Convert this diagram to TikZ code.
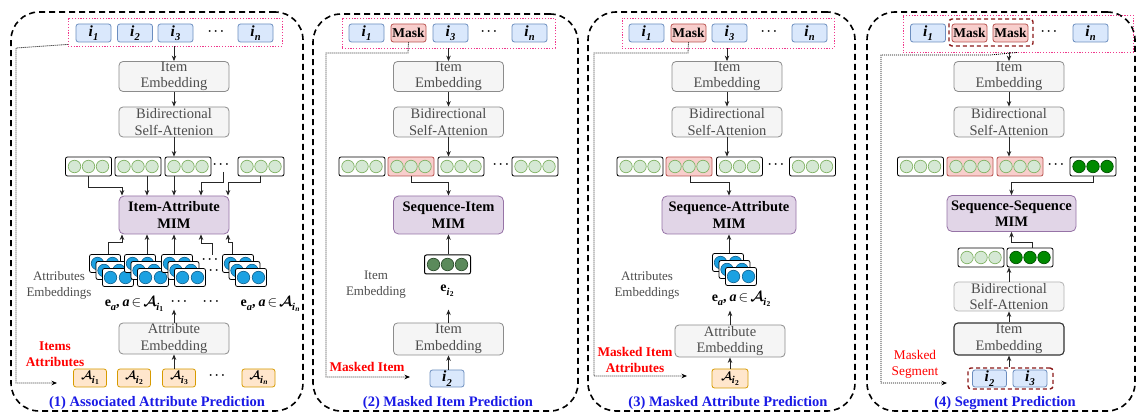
\documentclass[tikz,border=0pt]{standalone}
\usepackage{fontspec}
\setmainfont{Liberation Serif}
\usepackage{amsmath,amssymb}
\usetikzlibrary{arrows.meta,calc}
\definecolor{itemfill}{HTML}{DAE8FC}
\definecolor{itemdraw}{HTML}{6C8EBF}
\definecolor{maskfill}{HTML}{F8CECC}
\definecolor{maskdraw}{HTML}{B85450}
\definecolor{grayfill}{HTML}{F5F5F5}
\definecolor{graydraw}{HTML}{8C8C8C}
\definecolor{mimfill}{HTML}{E1D5E7}
\definecolor{mimdraw}{HTML}{9673A6}
\definecolor{attfill}{HTML}{FFE6CC}
\definecolor{attdraw}{HTML}{D79B00}
\definecolor{lgfill}{HTML}{D5E8D4}
\definecolor{lgdraw}{HTML}{82B366}
\definecolor{bluec}{HTML}{1BA1E2}
\definecolor{bluecd}{HTML}{0B5E8C}
\definecolor{dgfill}{HTML}{5B8A5B}
\definecolor{dgdraw}{HTML}{2D4D2D}
\definecolor{ggfill}{HTML}{008A00}
\definecolor{ggdraw}{HTML}{005200}
\definecolor{pinkc}{HTML}{F0388C}
\definecolor{titleblue}{HTML}{1A1AE6}
\definecolor{txtgray}{HTML}{4D4D4D}
\definecolor{segred}{HTML}{8B1A1A}
\newcommand{\lowsub}[2]{\raisebox{-0.28em}{\fontsize{#1}{#1}\selectfont #2}}
\newcommand{\subi}[1]{\textbf{\textit{i}}\kern0.3pt\raisebox{-0.12em}{\fontsize{7.5}{7.5}\selectfont\textbf{#1}}}
\newcommand{\Aset}[1]{{\boldmath$\mathcal{A}$}\kern-0.3pt\lowsub{10.5}{\subi{#1}}}
\newcommand{\ealab}[1]{\textbf{e}\lowsub{10.5}{\textbf{\textit{a}}}\textbf{,}\kern3pt\textbf{\textit{a}}\kern2pt$\in$\kern2pt\Aset{#1}}
\newcommand{\itm}[1]{i\kern0.3pt\lowsub{10.5}{#1}}
\newcommand{\erow}[5]{%
  \node[embbox,#4] (#1) at (#2,#3) {};
  \foreach \k in {-1,0,1}{\node[circ,#5] (#1-\k) at ([xshift=\k*14pt]#1.center) {};}%
}
\newcommand{\stk}[3]{%
  \foreach \j in {2,1,0}{%
    \node[sbox] (#1-\j) at (#2-\j*6.5,#3-\j*7) {};
    \node[bcirc] (#1-\j-a) at ([xshift=-7.5pt]#1-\j.center) {};
    \node[bcirc] (#1-\j-b) at ([xshift=7.5pt]#1-\j.center) {};
  }%
}
\tikzset{
  box/.style={draw, rounded corners=2.5pt, inner sep=0pt, line width=0.8pt},
  itembox/.style={box, fill=itemfill, draw=itemdraw, minimum width=35pt, minimum height=18pt, font=\fontsize{15.5}{15.5}\selectfont\bfseries\itshape},
  maskbox/.style={box, fill=maskfill, draw=maskdraw, minimum width=35pt, minimum height=18pt, font=\fontsize{13.5}{13.5}\selectfont\bfseries},
  graybox/.style={box, fill=grayfill, draw=graydraw, minimum width=110pt, minimum height=30pt, rounded corners=4pt},
  boxtext/.style={inner sep=0pt, align=center, text=txtgray, font=\fontsize{14.5}{16.5}\selectfont},
  mimbox/.style={box, fill=mimfill, draw=mimdraw, minimum height=38pt, rounded corners=5pt, align=center, font=\fontsize{14.5}{16.5}\selectfont\bfseries},
  embbox/.style={box, fill=white, draw=black, minimum width=46pt, minimum height=19pt, rounded corners=2pt},
  redemb/.style={fill=maskfill, draw=maskdraw},
  circ/.style={circle, draw=lgdraw, fill=lgfill, minimum size=12.5pt, inner sep=0pt, line width=0.7pt},
  dgc/.style={draw=dgdraw, fill=dgfill},
  ggc/.style={draw=ggdraw, fill=ggfill},
  sbox/.style={box, fill=white, draw=black, minimum width=31pt, minimum height=18pt, rounded corners=2pt},
  bcirc/.style={circle, draw=bluecd, fill=bluec, minimum size=12.5pt, inner sep=0pt, line width=0.6pt},
  attbox/.style={box, fill=attfill, draw=attdraw, minimum width=33pt, minimum height=18pt, font=\fontsize{13}{13}\selectfont},
  dots/.style={inner sep=0pt, font=\fontsize{13}{13}\selectfont\boldmath},
  pinkbox/.style={draw=pinkc, line width=0.9pt, dash pattern=on 1.2pt off 1.6pt, inner sep=0pt},
  panel/.style={draw=black, line width=1.6pt, dash pattern=on 6pt off 4pt, rounded corners=28pt, inner sep=0pt},
  arr/.style={-{Stealth[length=5.5pt,width=4.5pt]}, line width=0.8pt, draw=black!85},
  dotarr/.style={-{Stealth[length=5.5pt,width=4.5pt]}, line width=0.8pt, dash pattern=on 1pt off 1pt},
  sidelabel/.style={inner sep=0pt, align=center, text=txtgray, font=\fontsize{13}{16}\selectfont},
  redlabel/.style={inner sep=0pt, align=center, text=red, font=\fontsize{13.3}{16}\selectfont\bfseries},
  titlelab/.style={inner sep=0pt, text=titleblue, font=\fontsize{14.5}{16}\selectfont\bfseries},
  ealabel/.style={inner sep=0pt, font=\fontsize{14}{14}\selectfont},
  segbox/.style={draw=segred, line width=1.4pt, dash pattern=on 4pt off 3pt, rounded corners=3pt, inner sep=0pt},
}
\begin{document}
\begin{tikzpicture}[x=1pt,y=-1pt]
\fill[white] (0,0) rectangle (1146,419);
\useasboundingbox (0,0) rectangle (1146,419);

% ================= panels =================
\node[panel, minimum width=292pt, minimum height=399pt] (p1) at (157,211.5) {};
\node[panel, minimum width=265pt, minimum height=397pt] (p2) at (445.5,212.5) {};
\node[panel, minimum width=267pt, minimum height=399pt] (p3) at (721.5,211.5) {};
\node[panel, minimum width=268pt, minimum height=399pt] (p4) at (1001,211.5) {};

% ================= panel 1 =================
\node[pinkbox, minimum width=214pt, minimum height=28pt] (pk1) at (175,32) {};
\node[itembox] (i11) at (93.5,33) {\itm{1}};
\node[itembox] (i12) at (135,33) {\itm{2}};
\node[itembox] (i13) at (175.5,33) {\itm{3}};
\node[dots] (i1d) at (217,32) {$\cdots$};
\node[itembox] (i1n) at (255.5,33) {\itm{n}};

\node[graybox] (ie1) at (174,76.5) {};
\node[boxtext] (ie1t) at (ie1) {Item\\Embedding};
\node[graybox] (ba1) at (174,122) {};
\node[boxtext] (ba1t) at (ba1) {Bidirectional\\Self-Attenion};
\draw[arr] (ie1.north |- pk1.south) -- (ie1.north);
\draw[arr] (ie1.south) -- (ba1.north);

\erow{e11}{88.5}{166.5}{}{}
\erow{e12}{138}{166.5}{}{}
\erow{e13}{188}{166.5}{}{}
\node[dots] (e1d) at (222,165) {$\cdots$};
\erow{e14}{261}{166.5}{}{}
\draw[arr] (ba1.south) -- (ba1.south |- e13.north);

\node[mimbox, minimum width=110pt] (m1) at (174,215) {Item-Attribute\\MIM};
\coordinate (e1db) at (223,172);
\draw[arr] (e11.south) -- ++(0,11) -| ([xshift=-52pt]m1.north);
\draw[arr] ([xshift=-27pt]m1.north |- e12.south) -- ([xshift=-27pt]m1.north);
\draw[arr] (m1.north |- e13.south) -- (m1.north);
\draw[arr] (e1db) -- ++(0,10) -| ([xshift=27pt]m1.north);
\draw[arr] ([xshift=-1pt]e14.south) -- ++(0,6) -| ([xshift=54pt]m1.north);

\stk{s1}{118}{277.5}
\stk{s2}{153}{277.5}
\stk{s3}{190}{277.5}
\node[dots] (s1d1) at (211,260) {$\cdots$};
\node[dots] (s1d2) at (218,271) {$\cdots$};
\stk{s4}{251}{277.5}
\coordinate (s1db) at (212,255);
\draw[arr] ([xshift=3pt]s1-2.north) -- ++(0,-12) -| ([xshift=-52pt]m1.south);
\draw[arr] ([xshift=-27pt]m1.south |- s2-2.north) -- ([xshift=-27pt]m1.south);
\draw[arr] (m1.south |- s3-2.north) -- (m1.south);
\draw[arr] (s1db) -- ++(0,-12) -| ([xshift=27pt]m1.south);
\draw[arr] ([xshift=-6pt]s4-2.north) -- ++(0,-12) -| ([xshift=54pt]m1.south);

\node[sidelabel] (ae1l) at (59,285) {Attributes\\Embeddings};
\node[ealabel] (ea11) at (134,304) {\ealab{1}};
\node[dots] (ea1d1) at (180,302) {$\cdots$};
\node[dots] (ea1d2) at (212,302) {$\cdots$};
\node[ealabel] (ea1n) at (270,304) {\ealab{\textit{n}}};

\node[graybox, minimum height=31pt] (ae1) at (174,338.5) {};
\node[boxtext] (ae1t) at (ae1) {Attribute\\Embedding};
\draw[arr] (ae1.north) -- ++(0,-13);

\node[attbox] (a11) at (90,378) {\Aset{1}};
\node[attbox] (a12) at (134,378) {\Aset{2}};
\node[attbox] (a13) at (179,378) {\Aset{3}};
\node[dots] (a1d) at (218,376) {$\cdots$};
\node[attbox] (a1n) at (258.5,378) {\Aset{\textit{n}}};
\draw[arr] (ae1.south |- a13.north) -- (ae1.south);

\node[redlabel] (rl1) at (55,354) {Items\\Attributes};
\draw[dotarr] ([yshift=2pt]pk1.south west) -- (16,48) -- (16,383) -- (57,383);
\node[titlelab] (t1) at (157,403) {(1) Associated Attribute Prediction};

% ================= panel 2 =================
\node[pinkbox, minimum width=213pt, minimum height=30pt] (pk2) at (448.5,33) {};
\node[itembox] (i21) at (366.5,33) {\itm{1}};
\node[maskbox] (i22) at (408.5,33) {Mask};
\node[itembox] (i23) at (450.5,33) {\itm{3}};
\node[dots] (i2d) at (490,32) {$\cdots$};
\node[itembox] (i2n) at (529.5,33) {\itm{n}};

\node[graybox] (ie2) at (448.5,76.5) {};
\node[boxtext] (ie2t) at (ie2) {Item\\Embedding};
\node[graybox] (ba2) at (448.5,122) {};
\node[boxtext] (ba2t) at (ba2) {Bidirectional\\Self-Attenion};
\draw[arr] (ie2.north |- pk2.south) -- (ie2.north);
\draw[arr] (ie2.south) -- (ba2.north);

\erow{e21}{362}{166.5}{}{}
\erow{e22}{411}{166.5}{redemb}{}
\erow{e23}{461}{166.5}{}{}
\node[dots] (e2d) at (502,165) {$\cdots$};
\erow{e24}{535}{166.5}{}{}
\draw[arr] (ba2.south) -- (ba2.south |- e23.north);

\node[mimbox, minimum width=110pt] (m2) at (448.5,215) {Sequence-Item\\MIM};
\draw[arr] (e22.south) -- ++(0,6) -| (m2.north);

\erow{g2}{447.5}{264.5}{line width=1pt}{dgc}
\draw[arr] (m2.south |- g2.north) -- (m2.south);
\node[ealabel] (ei2) at (447,291) {\textbf{e}\lowsub{10.5}{\subi{2}}};
\node[sidelabel] (ie2l) at (376,285) {Item\\Embedding};

\node[graybox, minimum height=32pt] (ie2b) at (448.5,339) {};
\node[boxtext] (ie2bt) at (ie2b) {Item\\Embedding};
\draw[arr] (ie2b.north) -- ++(0,-13);
\node[itembox, minimum width=34pt, minimum height=17pt] (mi2) at (447,378.5) {\itm{2}};
\draw[arr] (ie2b.south |- mi2.north) -- (ie2b.south);

\node[redlabel] (rl2) at (367,367) {Masked Item};
\draw[dotarr] (i22.south) -- (408,53) -- (326,53) -- (326,377) -- (410,377);
\node[titlelab] (t2) at (448,403) {(2) Masked Item Prediction};

% ================= panel 3 =================
\node[pinkbox, minimum width=212pt, minimum height=30pt] (pk3) at (728,33) {};
\node[itembox] (i31) at (646.5,33) {\itm{1}};
\node[maskbox] (i32) at (688.5,33) {Mask};
\node[itembox] (i33) at (729.5,33) {\itm{3}};
\node[dots] (i3d) at (770,32) {$\cdots$};
\node[itembox] (i3n) at (809.5,33) {\itm{n}};

\node[graybox] (ie3) at (727,76.5) {};
\node[boxtext] (ie3t) at (ie3) {Item\\Embedding};
\node[graybox] (ba3) at (727,122) {};
\node[boxtext] (ba3t) at (ba3) {Bidirectional\\Self-Attenion};
\draw[arr] (ie3.north |- pk3.south) -- (ie3.north);
\draw[arr] (ie3.south) -- (ba3.north);

\erow{e31}{640}{166.5}{}{}
\erow{e32}{689}{166.5}{redemb}{}
\erow{e33}{739.5}{166.5}{}{}
\node[dots] (e3d) at (777,165) {$\cdots$};
\erow{e34}{812.5}{166.5}{}{}
\draw[arr] (ba3.south) -- (ba3.south |- e33.north);

\node[mimbox, minimum width=134pt] (m3) at (729,215) {Sequence-Attribute\\MIM};
\draw[arr] ([xshift=1pt]e32.south) -- ++(0,6) -| (m3.north);

\stk{s5}{741}{276.5}
\draw[arr] (m3.south |- s5-2.north) -- (m3.south);
\node[ealabel] (ea3) at (741,299) {\ealab{2}};
\node[sidelabel] (ae3l) at (647,285) {Attributes\\Embeddings};

\node[graybox, minimum height=32pt] (ae3) at (730,341) {};
\node[boxtext] (ae3t) at (ae3) {Attribute\\Embedding};
\draw[arr] (ae3.north) -- ++(0,-14);
\node[attbox, minimum width=36pt, minimum height=19pt] (a32) at (730,378.5) {\Aset{2}};
\draw[arr] (a32.north) -- (ae3.south);

\node[redlabel] (rl3) at (635,360) {Masked Item\\Attributes};
\draw[dotarr] (i32.south) -- (688,53) -- (594,53) -- (594,376) -- (687,376);
\node[titlelab] (t3) at (728,403) {(3) Masked Attribute Prediction};

% ================= panel 4 =================
\node[pinkbox, minimum width=230pt, minimum height=37pt] (pk4) at (1018,33.5) {};
\node[itembox] (i41) at (928,33) {\itm{1}};
\node[maskbox] (i42) at (969.5,33) {Mask};
\node[maskbox] (i43) at (1010.5,33) {Mask};
\node[segbox, minimum width=84pt, minimum height=27pt] (sg4) at (991,32.5) {};
\node[dots] (i4d) at (1050,32) {$\cdots$};
\node[itembox] (i4n) at (1090.5,33) {\itm{n}};

\node[graybox] (ie4) at (1009,76.5) {};
\node[boxtext] (ie4t) at (ie4) {Item\\Embedding};
\node[graybox] (ba4) at (1009,122) {};
\node[boxtext] (ba4t) at (ba4) {Bidirectional\\Self-Attenion};
\draw[arr] (ie4.north |- pk4.south) -- (ie4.north);
\draw[arr] (ie4.south) -- (ba4.north);

\erow{e41}{920.5}{166.5}{}{}
\erow{e42}{970}{166.5}{redemb}{}
\erow{e43}{1020}{166.5}{redemb}{}
\node[dots] (e4d) at (1057,165) {$\cdots$};
\erow{e44}{1093}{166.5}{}{ggc}
\draw[arr] (ba4.south) -- (ba4.south |- e43.north);

\node[mimbox, minimum width=129pt, minimum height=36pt] (m4) at (1011.5,213.5) {Sequence-Sequence\\MIM};
\draw[arr] (e44.south) -- ++(0,6) -| (m4.north);

\erow{q1}{981}{257.5}{}{}
\erow{q2}{1030}{257.5}{}{ggc}
\draw[arr] ([xshift=2pt]q2.north) -- ++(0,-5) -| (m4.south);

\node[graybox, draw=black!30, minimum height=29pt] (ba4b) at (1009,296.5) {};
\node[boxtext] (ba4bt) at (ba4b) {Bidirectional\\Self-Attenion};
\draw[arr] (ba4b.north) -- (ba4b.north |- q2.south);
\node[graybox, draw=black!80, line width=1.1pt, minimum height=32pt] (ie4b) at (1009,339) {};
\node[boxtext] (ie4bt) at (ie4b) {Item\\Embedding};
\draw[arr] (ie4b.north) -- (ba4b.south);

\node[itembox, minimum width=34pt, minimum height=17pt] (mi42) at (989.5,378.5) {\itm{2}};
\node[itembox, minimum width=34pt, minimum height=17pt] (mi43) at (1030,378.5) {\itm{3}};
\node[segbox, minimum width=85pt, minimum height=21pt] (sg4b) at (1010.5,378.5) {};
\draw[arr] (ie4b.south |- sg4b.north) -- (ie4b.south);

\node[redlabel, font=\fontsize{13.3}{16}\selectfont] (rl4) at (915,364) {Masked\\Segment};
\draw[dotarr] ([xshift=-1pt]pk4.south) -- (990,55) -- (881,55) -- (881,383) -- (947,383);
\node[titlelab] (t4) at (1005,403) {(4) Segment Prediction};
\end{tikzpicture}
\end{document}
